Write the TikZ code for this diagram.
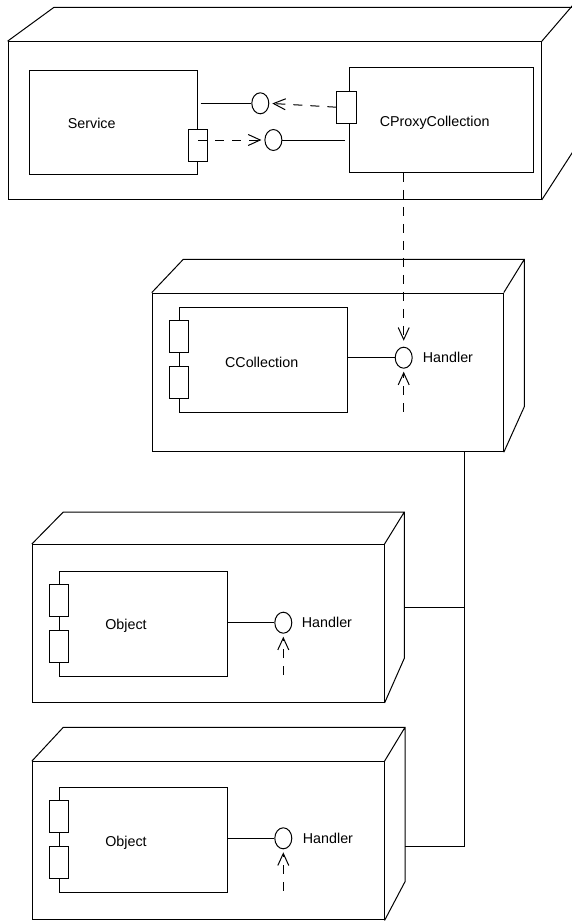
\documentclass[tikz,border=0pt]{standalone}
\usepackage{fontspec}
\setmainfont{Liberation Sans}
\usetikzlibrary{arrows.meta,positioning,calc,shapes.geometric}

\tikzset{
  nodefront/.style={draw,line width=1pt,inner sep=0pt},
  comp/.style={draw,line width=1pt,inner sep=0pt,minimum width=168pt,minimum height=104.6pt},
  portbox/.style={draw,fill=white,line width=1pt,inner sep=0pt,minimum width=19.3pt,minimum height=32.3pt},
  iface/.style={ellipse,draw,fill=white,line width=1pt,inner sep=0pt,minimum width=17pt,minimum height=21pt},
  lbl/.style={inner sep=0pt,font=\fontsize{14.3}{17}\selectfont},
  depend/.style={line width=1pt,dash pattern=on 9pt off 8pt,shorten >=3pt,
    -{Straight Barb[length=12pt,width=11pt,line width=1pt]}},
  wire/.style={line width=1pt}
}

\begin{document}
\begin{tikzpicture}[x=1pt,y=-1pt,line join=miter]
  \useasboundingbox[fill=white] (0,0) rectangle (571,921);

  % execution nodes
  \node[nodefront,minimum width=533.3pt,minimum height=157.6pt] (srvnode) at (274.7,120.5) {};
  \draw[wire] (srvnode.north west) -- (54,7.3) -- (574,7.3)
    (srvnode.north east) -- (574,3.8)
    (srvnode.south east) -- (574,150);
  \node[nodefront,minimum width=351pt,minimum height=158.7pt] (collnode) at (327.8,372.4) {};
  \draw[wire] (collnode.north west) -- (183.3,259.3) -- (524.3,259.3) -- (524.3,406.7) -- (collnode.south east)
    (collnode.north east) -- (524.3,259.3);
  \node[nodefront,minimum width=351.7pt,minimum height=158pt] (objnodeA) at (208.2,623.5) {};
  \draw[wire] (objnodeA.north west) -- (63.3,512) -- (404.3,512) -- (404.3,658.3) -- (objnodeA.south east)
    (objnodeA.north east) -- (404.3,512);
  \node[nodefront,minimum width=351.7pt,minimum height=158.3pt] (objnodeB) at (208.2,840.8) {};
  \draw[wire] (objnodeB.north west) -- (63.3,727.3) -- (405,727.3) -- (405,881.7) -- (objnodeB.south east)
    (objnodeB.north east) -- (405,727.3);

  % components
  \node[comp,minimum width=168pt,minimum height=104pt] (service) at (113.2,122.7) {};
  \node[lbl] (servicelbl) at (91.7,123) {Service};
  \node[comp,minimum width=184pt] (proxy) at (441.3,120) {};
  \node[lbl] (proxylbl) at (434.7,123.3) {CProxyCollection};
  \node[comp] (ccoll) at (263.3,360) {};
  \node[lbl] (ccolllbl) at (261.7,362.7) {CCollection};
  \node[comp,minimum height=105pt] (objA) at (143.3,623.5) {};
  \node[lbl] (objAlbl) at (126,626) {Object};
  \node[comp] (objB) at (143.3,840) {};
  \node[lbl] (objBlbl) at (126,842.7) {Object};

  % ports
  \node[portbox] (srvport) at (198.2,145.5) {};
  \node[portbox] (proxyport) at (346.5,107.2) {};
  \node[portbox] (ccportA) at (178.8,336.7) {};
  \node[portbox] (ccportB) at (178.8,382.5) {};
  \node[portbox] (objAportA) at (58.8,600.8) {};
  \node[portbox] (objAportB) at (58.8,646.5) {};
  \node[portbox] (objBportA) at (58.8,816.7) {};
  \node[portbox] (objBportB) at (58.8,862.5) {};

  % interfaces
  \node[iface] (srvif) at (260.3,103.3) {};
  \node[iface] (proxyif) at (273.4,140) {};
  \node[iface] (ccif) at (403.7,357.7) {};
  \node[lbl,anchor=west] (ccifl) at (422.7,357.7) {Handler};
  \node[iface] (objAif) at (283.3,622.7) {};
  \node[lbl,anchor=west] (objAifl) at (301.7,622.7) {Handler};
  \node[iface] (objBif) at (283.3,838.3) {};
  \node[lbl,anchor=west] (objBifl) at (302.7,838.3) {Handler};

  \coordinate (ccin) at (403.7,411.7);
  \coordinate (objAin) at (283.3,675);
  \coordinate (objBin) at (283.3,890.7);
  \coordinate (busjoin) at (464.3,607.3);
  \coordinate (busend) at (464.3,846.7);
  \coordinate (objAlink) at (404.3,607.3);
  \coordinate (objBlink) at (405,846.7);

  % connectors
  \draw[wire] ($(service.east |- srvif)+(3,0)$) -- (srvif.west);
  \draw[depend] (proxyport.west) -- (srvif.east);
  \draw[depend] (srvport.center |- proxyif) -- (proxyif.west);
  \draw[wire] (proxyif.east) -- ($(proxy.west |- proxyif)+(-4,0)$);
  \draw[depend,shorten >=6pt] (proxy.south -| ccif) -- (ccif.north);
  \draw[wire] (ccoll.east |- ccif) -- (ccif.west);
  \draw[depend] (ccin) -- (ccif.south);
  \draw[wire] (objA.east |- objAif) -- (objAif.west);
  \draw[depend] (objAin) -- (objAif.south);
  \draw[wire] (objB.east |- objBif) -- (objBif.west);
  \draw[depend] (objBin) -- (objBif.south);
  \draw[wire] (collnode.south -| busjoin) -- (busend) -- (objBlink);
  \draw[wire] (objAlink) -- (busjoin);
\end{tikzpicture}
\end{document}
